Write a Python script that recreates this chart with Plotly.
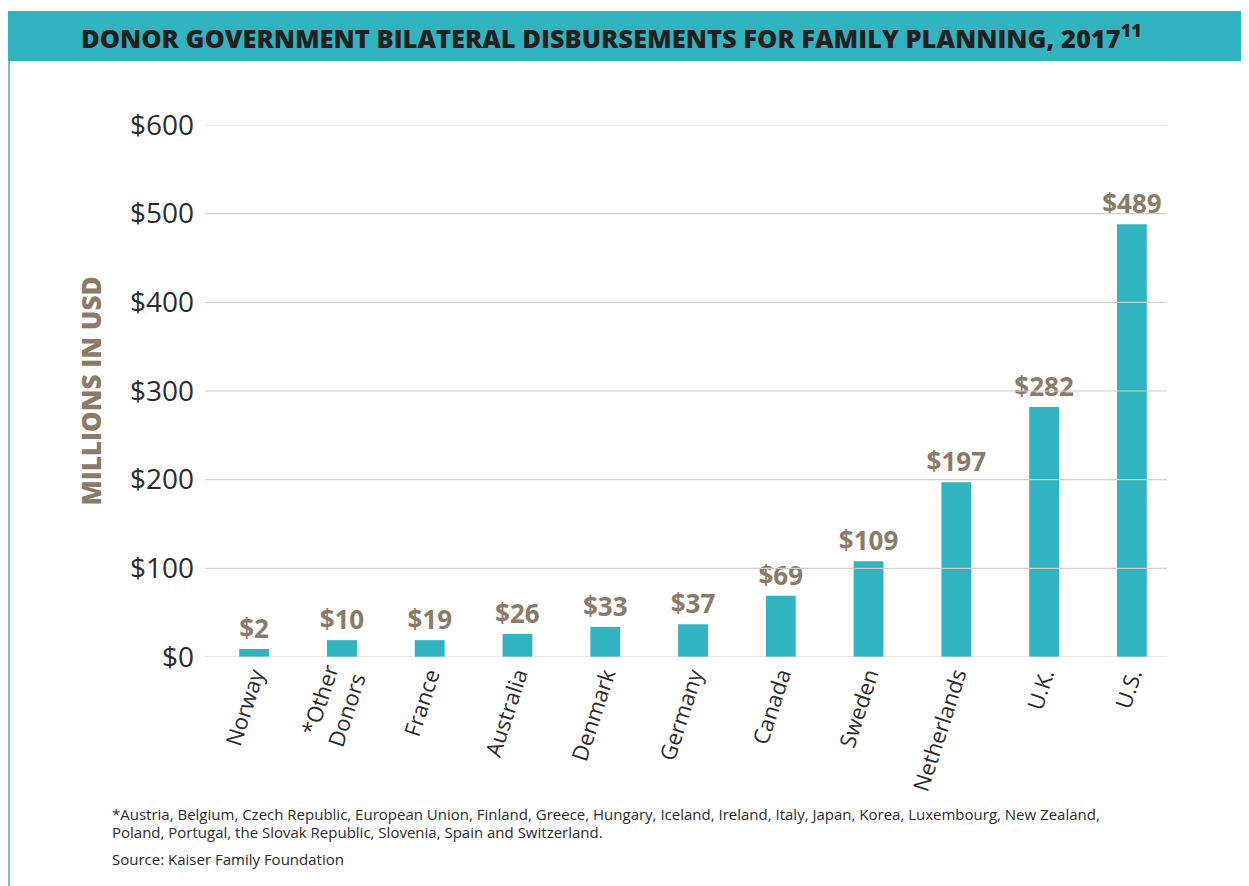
import plotly.graph_objects as go

categories = ["Norway", "*Other<br>Donors", "France", "Australia", "Denmark", "Germany",
              "Canada", "Sweden", "Netherlands", "U.K.", "U.S."]
bar_values = [9, 19, 19, 26, 34, 37, 69, 108, 197, 282, 488]
label_values = [2, 10, 19, 26, 33, 37, 69, 109, 197, 282, 489]
y_ticks = [0, 100, 200, 300, 400, 500, 600]
y_tick_labels = [f"${v}" for v in y_ticks]

title_text = "DONOR GOVERNMENT BILATERAL DISBURSEMENTS FOR FAMILY PLANNING, 2017<sup>11</sup>"
footnote_lines = [
    "*Austria, Belgium, Czech Republic, European Union, Finland, Greece, Hungary, Iceland, Ireland, Italy, Japan, Korea, Luxembourg, New Zealand,",
    "Poland, Portugal, the Slovak Republic, Slovenia, Spain and Switzerland.",
    "Source: Kaiser Family Foundation",
]

TEAL = "#30b4c0"
BROWN = "#8c7a68"
DARK = "#2b2b2b"
FONT = "Open Sans"

OFF = 8  # page body margin
W, H = 1249 - OFF, 886 - OFF
# plot area in reference pixel coords
PL, PR, PT, PB = 205, 1167, 125, 657
L, R, T, B = PL - OFF, W - (PR - OFF), PT - OFF, H - (PB - OFF)
pw, ph = PR - PL, PB - PT

def px(x):
    return (x - PL) / pw

def py(y):
    return (PB - y) / ph

fig = go.Figure(go.Bar(
    x=categories, y=bar_values,
    text=[f"${v}" for v in label_values],
    textposition="outside", cliponaxis=False, constraintext="none",
    textfont=dict(family=FONT, size=26, color=BROWN, weight=700),
    marker=dict(color=TEAL, line=dict(width=0)),
))

shapes = [
    dict(type="rect", xref="paper", yref="paper", x0=px(8), x1=px(1260), y0=py(61), y1=py(11),
         fillcolor=TEAL, line=dict(width=0), layer="below"),
    dict(type="line", xref="paper", yref="paper", x0=px(9), x1=px(9), y0=py(900), y1=py(61),
         line=dict(color=TEAL, width=1.5)),
]
for v in y_ticks:
    shapes.append(dict(type="line", xref="paper", yref="y", x0=0, x1=1, y0=v, y1=v,
                       line=dict(color="#d0d0d0", width=1.2), layer="above"))

annotations = [
    dict(text=title_text, xref="paper", yref="paper", x=px(611), y=py(37),
         xanchor="center", yanchor="middle", showarrow=False,
         font=dict(family=FONT, size=25.5, color="#231f20", weight=800)),
]
for line, yy in zip(footnote_lines, [814, 832, 859]):
    annotations.append(dict(text=line, xref="paper", yref="paper", x=px(110), y=py(yy),
                            xanchor="left", yanchor="middle", align="left", showarrow=False,
                            font=dict(family=FONT, size=15, color=DARK)))

fig.update_layout(
    width=W, height=H,
    margin=dict(l=L, r=R, t=T, b=B),
    paper_bgcolor="white", plot_bgcolor="white",
    showlegend=False,
    bargap=0.66,
    shapes=shapes,
    annotations=annotations,
    xaxis=dict(range=[-0.56, 10.4], tickangle=-72,
               tickfont=dict(family=FONT, size=22, color=DARK),
               showgrid=False, showline=False, ticks=""),
    yaxis=dict(range=[0, 600], tickvals=y_ticks, ticktext=y_tick_labels,
               tickfont=dict(family=FONT, size=28, color=DARK),
               showgrid=False, zeroline=False, ticks="", ticklabelstandoff=10,
               title=dict(text="MILLIONS IN USD", standoff=20,
                          font=dict(family=FONT, size=26, color=BROWN, weight=800))),
)

fig.write_html("out.html")
